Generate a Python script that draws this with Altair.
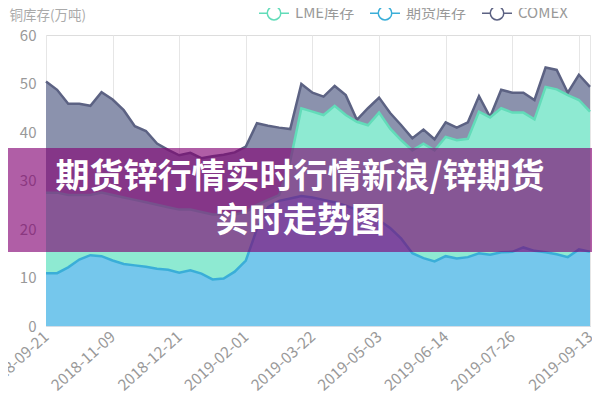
import altair as alt
import pandas as pd

dates = [
    "2018-09-21", "2018-09-28", "2018-10-12", "2018-10-19", "2018-10-26", "2018-11-02", "2018-11-09",
    "2018-11-16", "2018-11-23", "2018-11-30", "2018-12-07", "2018-12-14", "2018-12-21",
    "2018-12-28", "2019-01-04", "2019-01-11", "2019-01-18", "2019-01-25", "2019-02-01",
    "2019-02-15", "2019-02-22", "2019-03-01", "2019-03-08", "2019-03-15", "2019-03-22",
    "2019-03-29", "2019-04-04", "2019-04-12", "2019-04-19", "2019-04-26", "2019-05-03",
    "2019-05-10", "2019-05-17", "2019-05-24", "2019-05-31", "2019-06-06", "2019-06-14",
    "2019-06-21", "2019-06-28", "2019-07-05", "2019-07-12", "2019-07-19", "2019-07-26",
    "2019-08-02", "2019-08-09", "2019-08-16", "2019-08-23", "2019-08-30", "2019-09-06", "2019-09-13",
]

comex = [
    50.4, 48.7, 45.8, 45.8, 45.4, 48.2, 46.7, 44.5, 41.2, 40.2,
    37.6, 36.3, 35.2, 35.7, 34.6, 35.0, 35.3, 35.8, 37.0, 41.8,
    41.3, 40.9, 40.6, 49.9, 48.1, 47.3, 49.5, 47.6, 42.5, 44.9,
    47.1, 43.9, 41.4, 38.7, 40.5, 38.5, 42.0, 40.9, 42.0, 47.4,
    43.1, 48.7, 48.1, 48.1, 46.6, 53.3, 52.8, 48.1, 51.8, 49.3,
]

lme = [
    27.5, 27.5, 27.0, 27.0, 27.0, 27.5, 27.0, 26.5, 26.0, 25.5,
    25.0, 24.5, 24.0, 24.0, 23.5, 23.0, 23.0, 23.0, 23.5, 25.0,
    26.0, 27.0, 34.0, 44.9, 44.2, 43.5, 45.4, 43.5, 42.1, 41.4,
    44.0, 40.7, 38.3, 36.2, 37.6, 36.2, 39.0, 38.3, 38.6, 44.2,
    43.0, 44.9, 44.0, 44.0, 42.6, 49.3, 48.8, 47.6, 46.6, 44.2,
]

futures = [
    10.9, 10.9, 12.1, 13.7, 14.6, 14.4, 13.5, 12.8, 12.5, 12.2,
    11.8, 11.6, 11.0, 11.5, 10.8, 9.6, 9.8, 11.2, 13.5, 20.0,
    24.5, 25.8, 26.3, 26.8, 26.5, 26.0, 25.5, 24.8, 24.0, 23.0,
    21.8, 20.2, 18.0, 15.0, 14.0, 13.3, 14.4, 13.9, 14.2, 15.0,
    14.7, 15.2, 15.3, 16.2, 15.5, 15.2, 14.8, 14.2, 15.8, 15.3,
]

series_names = ["LME库存", "期货库存", "COMEX"]
line_colors = ["#62dcb9", "#3aaed8", "#5c6283"]
fill_colors = ["#8eead2", "#75c7ec", "#8b92ad"]

banner_lines = ["期货锌行情实时行情新浪/锌期货", "实时走势图"]

FONT = "Noto Sans CJK SC"

rows = []
for name, vals in zip(series_names, [lme, futures, comex]):
    for d, v in zip(dates, vals):
        rows.append({"date": d, "series": name, "value": v})
df = pd.DataFrame(rows)

tick_dates = [dates[i] for i in range(0, 49, 6)] + [dates[49]]

x = alt.X(
    "date:O",
    sort=dates,
    scale=alt.Scale(type="point", padding=0),
    axis=alt.Axis(
        values=tick_dates,
        labelExpr="datum.value == '2019-09-06' ? '' : datum.value",
        labelAngle=-42,
        labelAlign="right",
        labelBaseline="middle",
        labelPadding=8,
        labelFontSize=15.5,
        labelColor="#999999",
        labelFont=FONT,
        grid=True,
        gridColor="#e6e6e6",
        ticks=False,
        domainColor="#d5dde6",
        title=None,
    ),
)

y = alt.Y(
    "value:Q",
    stack=None,
    scale=alt.Scale(domain=[0, 60], nice=False),
    axis=alt.Axis(
        values=[0, 10, 20, 30, 40, 50, 60],
        grid=False,
        domain=False,
        ticks=False,
        labelFontSize=15,
        labelColor="#999999",
        labelFont=FONT,
        labelPadding=10,
        title="铜库存(万吨)",
        titleAngle=0,
        titleAlign="left",
        titleBaseline="middle",
        titleX=-37,
        titleY=-20,
        titleFontSize=13.5,
        titleFontWeight="normal",
        titleColor="#aaaaaa",
        titleFont=FONT,
    ),
)

legend_symbol = (
    "M-1,0L-0.45,0M0.45,0L1,0"
    "M0.45,0A0.45,0.45,0,1,1,-0.45,0A0.45,0.45,0,1,1,0.45,0Z"
)

stroke = alt.Stroke(
    "series:N",
    scale=alt.Scale(domain=series_names, range=line_colors),
    legend=alt.Legend(
        orient="none",
        legendX=212,
        legendY=-38,
        direction="horizontal",
        title=None,
        symbolType=legend_symbol,
        symbolSize=900,
        symbolStrokeWidth=1.5,
        symbolFillColor="transparent",
        labelFontSize=15,
        labelColor="#999999",
        labelFont=FONT,
        columnPadding=12,
        labelOffset=5,
        padding=0,
    ),
)

fill_map = dict(zip(series_names, fill_colors))

layers = []
for name in ["COMEX", "LME库存", "期货库存"]:
    b = alt.Chart(df).transform_filter(alt.datum.series == name)
    layers.append(b.mark_area(fill=fill_map[name], opacity=1).encode(x=x, y=y))
    layers.append(b.mark_line(strokeWidth=2.5).encode(x=x, y=y, stroke=stroke))

banner_df = pd.DataFrame({"line": banner_lines, "row": [0, 1]})

rect = alt.Chart(pd.DataFrame({"k": [0]})).mark_rect(
    color="#820072", opacity=0.63
).encode(
    x=alt.value(-38), x2=alt.value(546), y=alt.value(113), y2=alt.value(217)
)

text1 = alt.Chart(banner_df).transform_filter(alt.datum.row == 0).mark_text(
    font=FONT, fontSize=34, fontWeight="bold", color="white", align="center", baseline="middle"
).encode(text="line:N", x=alt.value(254), y=alt.value(143))

text2 = alt.Chart(banner_df).transform_filter(alt.datum.row == 1).mark_text(
    font=FONT, fontSize=34, fontWeight="bold", color="white", align="center", baseline="middle"
).encode(text="line:N", x=alt.value(254), y=alt.value(187))

chart = alt.layer(*layers, rect, text1, text2).properties(
    width=544,
    height=291,
    autosize=alt.AutoSizeParams(type="none"),
    padding={"left": 38, "top": 27, "right": 2, "bottom": 66},
).configure_view(stroke=None).configure(font=FONT)

chart.save("out.html", embed_options={"renderer": "svg", "actions": False})
